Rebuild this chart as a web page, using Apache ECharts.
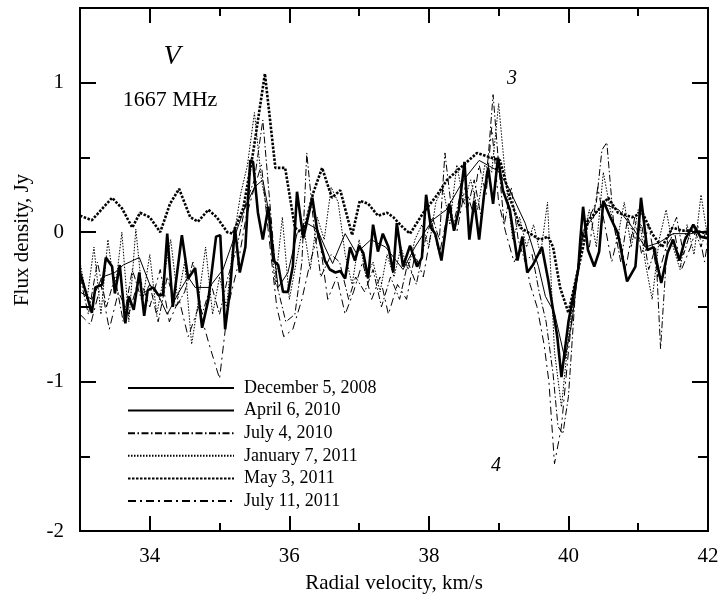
<!DOCTYPE html>
<html>
<head>
<meta charset="utf-8">
<script src="https://cdn.jsdelivr.net/npm/echarts@6/dist/echarts.min.js"></script>
<style>html,body{margin:0;padding:0;background:#fff}#c{width:724px;height:609px}</style>
</head>
<body>
<div id="c"></div>
<script>
// ---- Data ----
const seriesNames = ['December 5, 2008','April 6, 2010','July 4, 2010','January 7, 2011','May 3, 2011','July 11, 2011'];
const xTickLabels = [34,36,38,40,42];
const yTickLabels = [-2,-1,0,1];

const velDec2008 = [33.00,33.17,33.32,33.50,33.62,33.85,34.00,34.12,34.25,34.42,34.55,34.65,34.85,35.05,35.20,35.35,35.50,35.62,35.72,35.84,35.98,36.11,36.25,36.40,36.51,36.62,36.80,36.96,37.17,37.38,37.63,37.80,38.05,38.25,38.50,38.72,38.99,39.14,39.38,39.57,39.67,39.80,39.95,40.05,40.21,40.50,40.72,40.92,41.10,41.30,41.50,41.75,42.00];
const fluxDec2008 = [-0.40,-0.45,-0.30,-0.27,-0.22,-0.17,-0.35,-0.42,-0.55,-0.40,-0.30,-0.37,-0.37,-0.25,-0.05,0.15,0.30,0.35,0.10,-0.37,-0.27,-0.01,0.06,0.02,-0.10,-0.21,-0.01,-0.14,-0.05,-0.10,-0.25,-0.10,0.08,0.15,0.35,0.48,0.41,0.30,0.06,-0.23,-0.43,-0.54,-0.85,-0.60,0.01,0.19,0.15,0.03,-0.10,-0.07,-0.01,-0.01,0.01];

const velApr2010 = [33.00,33.17,33.22,33.32,33.37,33.46,33.50,33.57,33.65,33.70,33.77,33.85,33.92,33.97,34.05,34.12,34.19,34.25,34.33,34.46,34.55,34.65,34.75,34.84,34.95,35.01,35.08,35.15,35.22,35.29,35.37,35.44,35.48,35.55,35.62,35.70,35.77,35.84,35.91,35.98,36.05,36.11,36.20,36.33,36.40,36.51,36.58,36.66,36.73,36.80,36.87,36.94,37.00,37.06,37.13,37.20,37.27,37.34,37.42,37.49,37.54,37.63,37.73,37.83,37.90,37.96,38.03,38.09,38.18,38.29,38.36,38.43,38.51,38.58,38.65,38.72,38.79,38.85,38.92,38.99,39.06,39.16,39.27,39.34,39.41,39.49,39.62,39.71,39.78,39.84,39.90,40.00,40.08,40.14,40.17,40.21,40.28,40.37,40.44,40.50,40.60,40.71,40.84,40.96,41.04,41.13,41.22,41.33,41.42,41.50,41.59,41.67,41.79,41.89,41.99];
const fluxApr2010 = [-0.27,-0.54,-0.37,-0.35,-0.17,-0.23,-0.41,-0.22,-0.61,-0.43,-0.52,-0.27,-0.56,-0.39,-0.37,-0.42,-0.42,-0.01,-0.50,-0.02,-0.31,-0.24,-0.64,-0.45,-0.03,-0.02,-0.65,-0.39,0.03,-0.27,-0.10,0.48,0.47,0.13,-0.05,0.17,-0.19,-0.22,-0.40,-0.40,-0.23,0.27,-0.04,0.23,0.01,-0.19,-0.25,-0.27,-0.26,-0.31,-0.10,-0.19,-0.09,-0.14,-0.31,0.05,-0.13,-0.01,-0.10,-0.27,0.06,-0.23,-0.09,-0.23,-0.17,0.25,0.03,-0.01,-0.19,0.19,0.01,0.15,0.47,-0.05,0.21,-0.05,0.25,0.43,0.19,0.50,0.28,0.15,-0.19,-0.03,-0.27,-0.22,-0.10,-0.32,-0.52,-0.70,-0.97,-0.60,-0.40,-0.25,-0.05,0.17,-0.12,-0.23,-0.13,0.21,0.10,-0.01,-0.33,-0.23,0.23,-0.12,-0.10,-0.34,-0.14,-0.05,-0.19,-0.05,0.05,-0.03,-0.04];

const velJul2010 = [33.00,33.12,33.25,33.38,33.50,33.62,33.75,33.88,34.00,34.12,34.25,34.38,34.50,34.62,34.75,34.88,35.00,35.12,35.25,35.38,35.50,35.62,35.72,35.82,35.95,36.08,36.18,36.25,36.35,36.45,36.60,36.72,36.85,36.95,37.08,37.20,37.32,37.45,37.58,37.70,37.82,37.95,38.05,38.15,38.23,38.35,38.45,38.55,38.65,38.75,38.85,38.92,39.00,39.08,39.18,39.28,39.38,39.48,39.58,39.68,39.78,39.85,39.92,40.00,40.10,40.20,40.30,40.40,40.48,40.55,40.65,40.75,40.85,40.95,41.05,41.15,41.25,41.32,41.42,41.55,41.65,41.78,41.90,42.00];
const fluxJul2010 = [-0.30,-0.55,-0.20,-0.50,-0.30,-0.60,-0.25,-0.45,-0.35,-0.60,-0.30,-0.50,-0.40,-0.20,-0.55,-0.35,-0.55,-0.30,-0.10,0.20,0.35,0.75,0.20,-0.35,-0.60,-0.55,-0.20,0.53,0.05,-0.30,-0.15,-0.20,-0.45,-0.30,-0.40,-0.25,-0.50,-0.30,-0.45,-0.20,-0.35,-0.05,0.10,-0.05,0.53,0.05,0.25,0.15,0.35,0.10,0.50,0.92,0.45,0.05,0.30,-0.05,-0.20,-0.15,-0.40,-0.60,-0.95,-1.30,-1.35,-1.10,-0.40,-0.05,0.10,0.20,0.55,0.60,0.05,-0.20,0.10,-0.05,0.05,-0.25,-0.10,-0.78,-0.05,0.10,-0.15,0.05,-0.10,0.05];

const velJan2011 = [33.0,33.1,33.2,33.3,33.4,33.5,33.6,33.7,33.8,33.9,34.0,34.1,34.2,34.3,34.4,34.5,34.6,34.7,34.8,34.9,35.0,35.1,35.2,35.3,35.4,35.5,35.6,35.7,35.8,35.9,36.0,36.1,36.2,36.3,36.4,36.5,36.6,36.7,36.8,36.9,37.0,37.1,37.2,37.3,37.4,37.5,37.6,37.7,37.8,37.9,38.0,38.1,38.2,38.3,38.4,38.5,38.6,38.7,38.8,38.9,39.0,39.1,39.2,39.3,39.4,39.5,39.6,39.7,39.8,39.9,40.0,40.1,40.2,40.3,40.4,40.5,40.6,40.7,40.8,40.9,41.0,41.1,41.2,41.3,41.4,41.5,41.6,41.7,41.8,41.9,42.0];
const fluxJan2011 = [-0.20,-0.45,-0.10,-0.55,-0.05,-0.40,0.00,-0.60,0.02,-0.45,-0.15,-0.55,-0.30,-0.05,-0.45,-0.20,-0.75,-0.45,-0.10,-0.55,-0.30,-0.50,-0.05,0.25,0.45,0.80,0.35,0.10,-0.35,0.10,-0.45,-0.20,0.05,-0.25,0.10,-0.05,0.30,0.20,-0.15,-0.35,-0.05,-0.30,-0.20,-0.40,-0.15,-0.30,-0.10,-0.25,-0.05,0.05,-0.10,0.20,0.30,0.05,0.45,0.20,0.35,0.15,0.45,0.40,0.86,0.35,-0.05,0.10,-0.10,0.05,-0.15,0.20,-0.80,-1.17,-0.70,-0.35,-0.05,0.15,-0.10,0.40,0.15,-0.05,0.20,-0.10,0.15,-0.20,-0.45,-0.05,0.15,-0.10,-0.25,0.05,-0.15,0.25,-0.05];

const velMay2011 = [33.00,33.17,33.46,33.60,33.75,33.86,34.00,34.15,34.29,34.42,34.58,34.69,34.84,34.96,35.11,35.19,35.34,35.48,35.65,35.80,35.94,36.08,36.20,36.34,36.47,36.61,36.73,36.90,37.01,37.13,37.27,37.40,37.49,37.63,37.73,37.92,38.12,38.26,38.45,38.69,38.88,39.02,39.16,39.31,39.45,39.59,39.71,39.78,39.88,40.00,40.21,40.28,40.43,40.57,40.71,40.91,41.06,41.20,41.34,41.49,41.63,41.82,41.99];
const fluxMay2011 = [0.11,0.08,0.23,0.16,0.03,0.13,0.10,0.00,0.19,0.29,0.10,0.07,0.15,0.10,0.00,-0.01,0.16,0.53,1.06,0.43,0.43,0.03,-0.01,0.26,0.43,0.23,0.28,-0.02,0.21,0.19,0.11,0.13,0.10,0.03,-0.01,0.13,0.25,0.35,0.43,0.53,0.50,0.48,0.23,0.03,-0.01,-0.05,-0.03,-0.10,-0.37,-0.54,-0.10,0.08,0.15,0.23,0.13,0.10,0.13,-0.01,-0.10,0.03,0.01,0.01,-0.01];

const velJul2011 = [33.00,33.15,33.30,33.42,33.55,33.70,33.85,34.00,34.15,34.28,34.42,34.55,34.70,34.85,35.00,35.12,35.25,35.38,35.50,35.60,35.70,35.82,35.92,36.05,36.18,36.30,36.42,36.55,36.68,36.80,36.92,37.05,37.18,37.30,37.42,37.55,37.68,37.80,37.92,38.05,38.15,38.28,38.40,38.52,38.62,38.72,38.82,38.90,39.00,39.10,39.22,39.35,39.45,39.55,39.65,39.72,39.80,39.90,40.00,40.10,40.20,40.30,40.42,40.52,40.62,40.72,40.82,40.95,41.05,41.15,41.28,41.40,41.52,41.62,41.75,41.85,41.95,42.00];
const fluxJul2011 = [-0.55,-0.62,-0.35,-0.65,-0.40,-0.55,-0.30,-0.50,-0.25,-0.60,-0.45,-0.70,-0.50,-0.75,-0.98,-0.50,-0.25,0.10,0.30,0.45,0.00,-0.50,-0.70,-0.65,-0.45,-0.20,0.00,-0.45,-0.30,-0.55,-0.40,-0.20,-0.45,-0.30,-0.55,-0.35,-0.45,-0.15,-0.30,0.05,-0.15,0.15,0.00,0.30,0.15,0.45,0.25,0.70,0.20,0.00,-0.20,-0.10,-0.35,-0.50,-0.75,-1.00,-1.55,-1.30,-0.80,-0.35,0.00,-0.10,0.30,0.05,-0.20,0.00,-0.25,0.10,-0.15,0.05,-0.30,-0.10,0.00,-0.25,-0.10,0.05,-0.20,-0.05];

// ---- Chart ----
const FONT = 'Liberation Serif';
const pairs = (v, f) => v.map((x, i) => [x, f[i]]);
const seriesData = [
  pairs(velDec2008, fluxDec2008),
  pairs(velApr2010, fluxApr2010),
  pairs(velJul2010, fluxJul2010),
  pairs(velJan2011, fluxJan2011),
  pairs(velMay2011, fluxMay2011),
  pairs(velJul2011, fluxJul2011)
];
const styles = [
  {width: 1, type: 'solid'},
  {width: 2.6, type: 'solid'},
  {width: 1, type: [7, 2.5, 1.5, 2.5]},
  {width: 1, type: [1.5, 1.5]},
  {width: 2.6, type: [2.5, 1.5]},
  {width: 1, type: [8, 4, 2, 4]}
];

function xAx(pos, vals, len, labels) {
  return {
    type: 'value', min: 33, max: 42, position: pos, gridIndex: 0,
    axisLine: {show: false, onZero: false}, splitLine: {show: false},
    axisTick: {show: true, inside: true, length: len, customValues: vals, lineStyle: {color: '#000', width: 2}},
    axisLabel: labels ? {show: true, customValues: xTickLabels, color: '#000', fontFamily: FONT, fontSize: 21, margin: 15} : {show: false}
  };
}
function yAx(pos, vals, len, labels) {
  return {
    type: 'value', min: -2, max: 1.5, position: pos, gridIndex: 0,
    axisLine: {show: false, onZero: false}, splitLine: {show: false},
    axisTick: {show: true, inside: true, length: len, customValues: vals, lineStyle: {color: '#000', width: 2}},
    axisLabel: labels ? {show: true, customValues: yTickLabels, color: '#000', fontFamily: FONT, fontSize: 21, margin: 16} : {show: false}
  };
}

const xMajor = [34, 36, 38, 40];
const xMinor = [35, 37, 39, 41];
const yMajor = [-1, 0, 1];
const yMinor = [-1.5, -0.5, 0.5];

const xBottom = xAx('bottom', xMajor, 15, true);
xBottom.name = 'Radial velocity, km/s';
xBottom.nameLocation = 'middle';
xBottom.nameGap = 42;
xBottom.nameTextStyle = {color: '#000', fontFamily: FONT, fontSize: 21};

const option = {
  backgroundColor: '#fff',
  animation: false,
  grid: {left: 80, right: 16, top: 8, bottom: 78, show: true, borderColor: '#000', borderWidth: 2, backgroundColor: 'transparent'},
  xAxis: [xBottom, xAx('top', xMajor, 15, false), xAx('bottom', xMinor, 8, false), xAx('top', xMinor, 8, false)],
  yAxis: [yAx('left', yMajor, 16, true), yAx('right', yMajor, 16, false), yAx('left', yMinor, 10, false), yAx('right', yMinor, 10, false)],
  legend: {
    orient: 'vertical', left: 122, top: 374,
    itemWidth: 106, itemHeight: 14, itemGap: 4.6,
    itemStyle: {opacity: 0},
    textStyle: {color: '#000', fontFamily: FONT, fontSize: 18, lineHeight: 18, padding: [0, 0, 0, 5]},
    data: seriesNames
  },
  graphic: [
    {type: 'text', x: 22, y: 240, rotation: Math.PI / 2, style: {text: 'Flux density, Jy', fontFamily: FONT, fontSize: 21, fill: '#000', align: 'center', verticalAlign: 'middle'}},
    {type: 'text', x: 172, y: 57, style: {text: 'V', fontFamily: FONT, fontStyle: 'italic', fontSize: 28, fill: '#000', align: 'center', verticalAlign: 'middle'}},
    {type: 'text', x: 170, y: 100, style: {text: '1667 MHz', fontFamily: FONT, fontSize: 22, fill: '#000', align: 'center', verticalAlign: 'middle'}},
    {type: 'text', x: 512, y: 79, style: {text: '3', fontFamily: FONT, fontStyle: 'italic', fontSize: 20, fill: '#000', align: 'center', verticalAlign: 'middle'}},
    {type: 'text', x: 496, y: 466, style: {text: '4', fontFamily: FONT, fontStyle: 'italic', fontSize: 20, fill: '#000', align: 'center', verticalAlign: 'middle'}}
  ],
  series: seriesNames.map((n, i) => ({
    name: n, type: 'line', xAxisIndex: 0, yAxisIndex: 0,
    data: seriesData[i], symbol: 'none', showSymbol: false,
    lineStyle: {color: '#000', width: styles[i].width, type: styles[i].type},
    itemStyle: {color: '#000'},
    z: i === 1 ? 5 : 3
  }))
};

const chart = echarts.init(document.getElementById('c'), null, {renderer: 'canvas'});
chart.setOption(option);
</script>
</body>
</html>
